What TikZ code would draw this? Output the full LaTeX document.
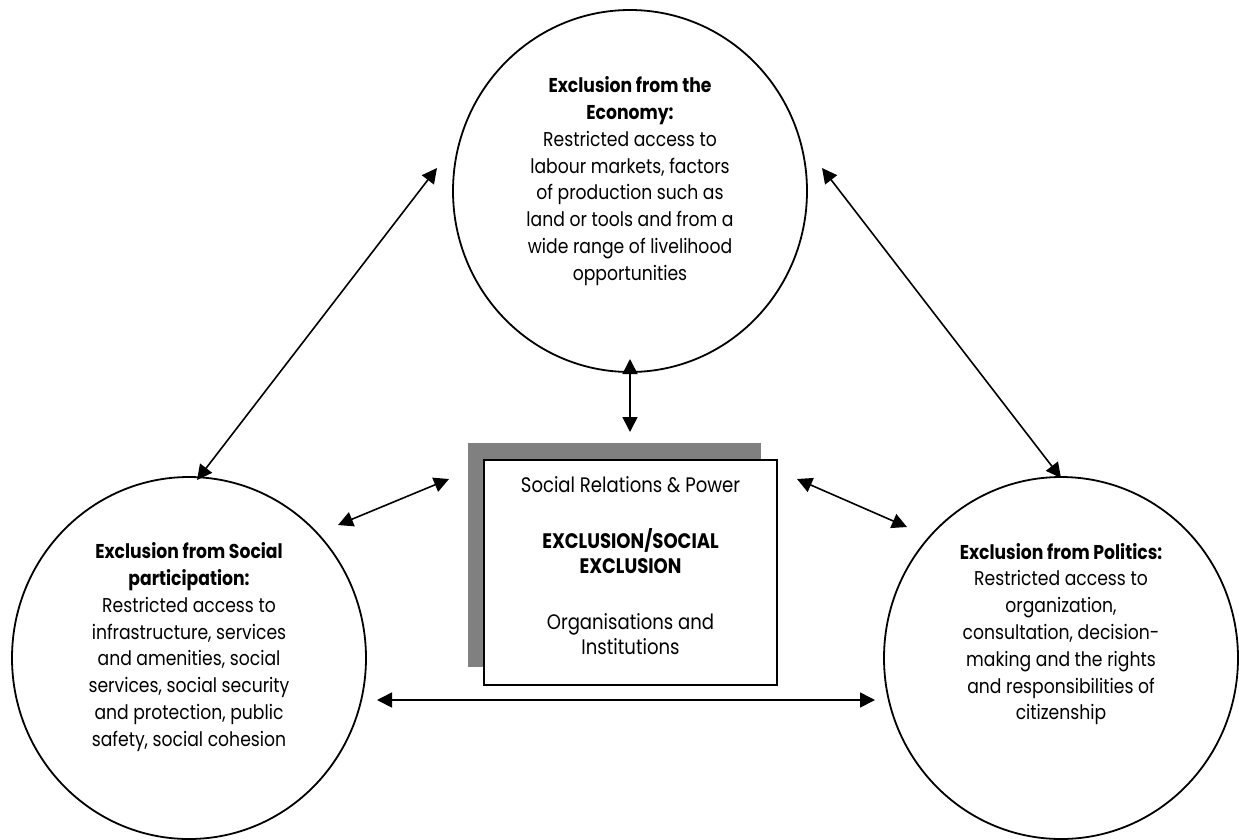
\documentclass[tikz,border=0pt]{standalone}
\usepackage{fontspec}
\setmainfont{Poppins}[FakeStretch=0.86]
\usetikzlibrary{shapes.geometric,arrows.meta}
\begin{document}
\begin{tikzpicture}[x=1pt,y=-1pt,
  circ/.style={draw=black,line width=1.8pt,ellipse,inner sep=0pt,minimum width=354pt,minimum height=362pt},
  txt/.style={align=center,font=\fontsize{20}{26.8}\selectfont,inner sep=0pt},
  arr/.style={line width=1.6pt,{Triangle[length=15pt,width=15pt]}-{Triangle[length=15pt,width=15pt]}}]
\useasboundingbox (0,0) rectangle (1239,839);
\fill[white] (0,0) rectangle (1239,839);
% circles
\node[circ] (eco) at (630,191) {};
\node[circ] (soc) at (189,658) {};
\node[circ] (pol) at (1061,658) {};
% texts
\node[txt] (ecot) at (630,181) {\textbf{Exclusion from the}\\\textbf{Economy:}\\Restricted access to\\labour markets, factors\\of production such as\\land or tools and from a\\wide range of livelihood\\opportunities};
\node[txt] (soct) at (189,647) {\textbf{Exclusion from Social}\\\textbf{participation:}\\Restricted access to\\infrastructure, services\\and amenities, social\\services, social security\\and protection, public\\safety, social cohesion};
\node[txt] (polt) at (1061,634) {\textbf{Exclusion from Politics:}\\Restricted access to\\organization,\\consultation, decision-\\making and the rights\\and responsibilities of\\citizenship};
% central box
\fill[black!50] (468,443) rectangle (761,667);
\node[draw=black,fill=white,line width=2.2pt,minimum width=293pt,minimum height=225pt,inner sep=0pt] (box) at (630.5,572.5) {};
\node[txt,font=\fontsize{21}{25.5}\selectfont] (boxt) at (630.5,566) {Social Relations \& Power\\[30pt]\textbf{EXCLUSION/SOCIAL}\\\textbf{EXCLUSION}\\[30pt]Organisations and\\Institutions};
% arrow end points
\coordinate (a1) at (437,168);
\coordinate (a2) at (197,480);
\coordinate (b1) at (822,168);
\coordinate (b2) at (1061,478);
\coordinate (c1) at (630,359);
\coordinate (c2) at (630,432);
\coordinate (d1) at (449,479);
\coordinate (d2) at (338,525);
\coordinate (e1) at (797,479);
\coordinate (e2) at (907,527);
\coordinate (f1) at (377,700);
\coordinate (f2) at (875,700);
\draw[arr] (a1) -- (a2);
\draw[arr] (b1) -- (b2);
\draw[arr] (c1) -- (c2);
\draw[arr] (d1) -- (d2);
\draw[arr] (e1) -- (e2);
\draw[arr] (f1) -- (f2);
\end{tikzpicture}
\end{document}
